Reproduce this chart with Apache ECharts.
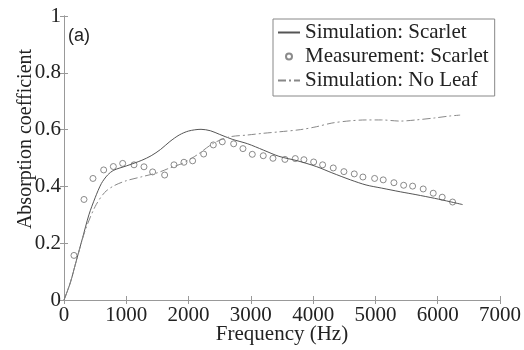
<!DOCTYPE html>
<html>
<head>
<meta charset="utf-8">
<style>
  html, body { margin: 0; padding: 0; background: #fff; }
  #chart { width: 524px; height: 350px; }
</style>
<script src="https://cdn.jsdelivr.net/npm/echarts@6/dist/echarts.min.js"></script>
</head>
<body>
<div id="chart"></div>
<script>
// Absorption coefficient of the Scarlet sample vs. the bare (no leaf) case
const simFreq = [0, 100, 200, 300, 400, 500, 600, 700, 800, 1000, 1250, 1400, 1550, 1700, 1850,
  2000, 2200, 2350, 2500, 2700, 2950, 3200, 3450, 3750, 4050, 4300, 4600, 4850, 5100, 5400,
  5650, 5950, 6200, 6400];
const simScarlet = [0, 0.06, 0.14, 0.22, 0.30, 0.36, 0.41, 0.44, 0.457, 0.472, 0.492, 0.508, 0.530,
  0.558, 0.581, 0.595, 0.601, 0.596, 0.583, 0.566, 0.550, 0.528, 0.506, 0.490, 0.470, 0.448,
  0.423, 0.405, 0.394, 0.381, 0.371, 0.358, 0.346, 0.336];
const simNoLeafFreq = [0, 100, 200, 342, 500, 650, 800, 1000, 1250, 1500, 1700, 1900, 2050, 2150,
  2400, 2650, 2950, 3200, 3450, 3800, 4050, 4300, 4600, 4850, 5100, 5400, 5650, 5950, 6200, 6360];
const simNoLeaf = [0, 0.06, 0.14, 0.246, 0.329, 0.378, 0.402, 0.420, 0.434, 0.448, 0.465, 0.481,
  0.499, 0.513, 0.552, 0.574, 0.581, 0.587, 0.592, 0.600, 0.610, 0.623, 0.631, 0.634, 0.634,
  0.630, 0.634, 0.641, 0.648, 0.651];
const measFreq = [160, 321, 465, 637, 792, 942, 1124, 1284, 1423, 1616, 1766, 1926, 2065, 2242,
  2397, 2541, 2724, 2873, 3023, 3199, 3355, 3547, 3713, 3852, 4008, 4152, 4323, 4494, 4660,
  4799, 4987, 5125, 5297, 5453, 5597, 5767, 5928, 6072, 6239];
const measScarlet = [0.157, 0.354, 0.428, 0.458, 0.470, 0.481, 0.476, 0.469, 0.451, 0.440, 0.476,
  0.485, 0.490, 0.514, 0.546, 0.557, 0.550, 0.533, 0.513, 0.508, 0.499, 0.495, 0.498, 0.494,
  0.486, 0.476, 0.465, 0.452, 0.444, 0.433, 0.428, 0.423, 0.413, 0.404, 0.401, 0.391, 0.376,
  0.362, 0.345];
const xTicks = { min: 0, max: 7000, interval: 1000 };
const yTicks = { min: 0, max: 1, interval: 0.2 };
const seriesNames = ['Simulation: Scarlet', 'Measurement: Scarlet', 'Simulation: No Leaf'];

const zip = (xs, ys) => xs.map((x, i) => [x, ys[i]]);

const SERIF = '"Liberation Serif", "DejaVu Serif", serif';
const TEXT = '#222';
const FRAME = '#999';

const frameAxis = {
  axisLine: { show: true, lineStyle: { color: FRAME, width: 1 } },
  axisTick: { show: true, inside: true, length: 4, lineStyle: { color: FRAME } },
  splitLine: { show: false }
};
const tickText = { fontFamily: SERIF, fontSize: 21, color: TEXT, formatter: v => String(v) };

const chart = echarts.init(document.getElementById('chart'), null, { renderer: 'canvas' });
chart.setOption({
  animation: false,
  backgroundColor: '#fff',
  grid: { left: 64, right: 24, top: 16, bottom: 50, containLabel: false, outerBoundsMode: 'none' },
  xAxis: [
    Object.assign({
      type: 'value', position: 'bottom', min: xTicks.min, max: xTicks.max, interval: xTicks.interval,
      name: 'Frequency (Hz)', nameLocation: 'middle', nameGap: 24, nameMoveOverlap: false,
      nameTextStyle: { fontFamily: SERIF, fontSize: 21, color: TEXT },
      axisLabel: Object.assign({ margin: 5 }, tickText)
    }, frameAxis),
    Object.assign({
      type: 'value', position: 'top', min: xTicks.min, max: xTicks.max, interval: xTicks.interval,
      axisLabel: { show: false }
    }, frameAxis)
  ],
  yAxis: [
    Object.assign({
      type: 'value', position: 'left', min: yTicks.min, max: yTicks.max, interval: yTicks.interval,
      name: 'Absorption coefficient', nameLocation: 'middle', nameGap: 28, nameMoveOverlap: false,
      nameTextStyle: { fontFamily: SERIF, fontSize: 20, color: TEXT, padding: [0, 0, 0, 38] },
      axisLabel: Object.assign({ margin: 3 }, tickText)
    }, frameAxis),
    Object.assign({
      type: 'value', position: 'right', min: yTicks.min, max: yTicks.max, interval: yTicks.interval,
      axisLabel: { show: false }
    }, frameAxis)
  ],
  legend: {
    left: 273, top: 19,
    orient: 'vertical',
    padding: [3, 6, 5, 4],
    itemGap: 3,
    itemWidth: 22, itemHeight: 6,
    backgroundColor: '#fff',
    borderColor: '#888', borderWidth: 1, borderRadius: 0,
    textStyle: { fontFamily: SERIF, fontSize: 21, color: TEXT },
    data: [
      { name: seriesNames[0], itemStyle: { opacity: 0 } },
      { name: seriesNames[1] },
      { name: seriesNames[2], itemStyle: { opacity: 0 } }
    ]
  },
  graphic: [{
    type: 'text', left: 68, top: 27,
    style: { text: '(a)', font: '18px "Liberation Sans"', fill: TEXT }
  }],
  series: [
    {
      name: seriesNames[0], type: 'line', smooth: 0.3,
      symbol: 'none', data: zip(simFreq, simScarlet),
      lineStyle: { color: '#555', width: 1 }, itemStyle: { color: '#555' }
    },
    {
      name: seriesNames[1], type: 'scatter',
      symbol: 'circle', symbolSize: 6, data: zip(measFreq, measScarlet),
      itemStyle: { color: '#fff', borderColor: '#6e6e6e', borderWidth: 1 }
    },
    {
      name: seriesNames[2], type: 'line', smooth: 0.3,
      symbol: 'none', data: zip(simNoLeafFreq, simNoLeaf),
      lineStyle: { color: '#888', width: 1, type: [8, 3, 2, 3] }, itemStyle: { color: '#888' }
    }
  ]
});
</script>
</body>
</html>
